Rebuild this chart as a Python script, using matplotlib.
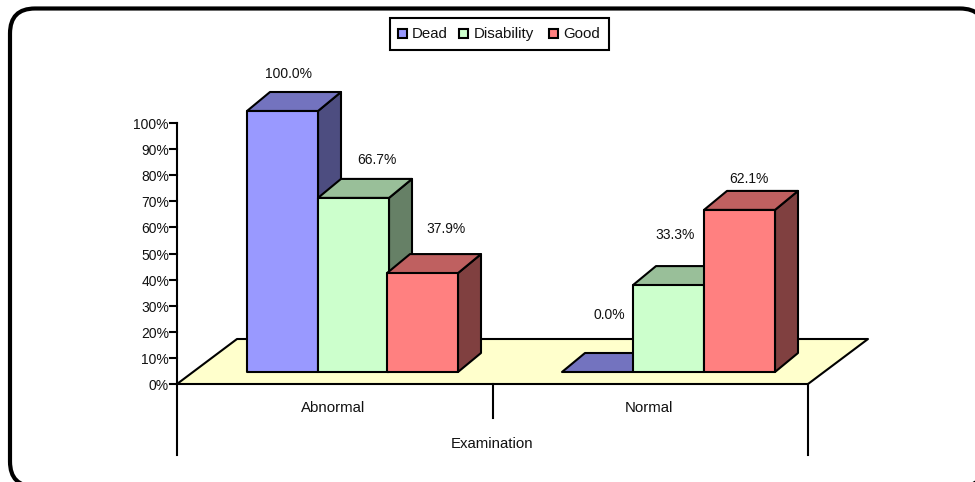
import matplotlib
matplotlib.use("Agg")
import matplotlib.pyplot as plt
from matplotlib.patches import FancyBboxPatch, Polygon, Rectangle

plt.rcParams['font.family'] = ['Liberation Sans', 'DejaVu Sans']

categories = ["Abnormal", "Normal"]
series = ["Dead", "Disability", "Good"]
dead = [100.0, 0.0]
disability = [66.7, 33.3]
good = [37.9, 62.1]
y_ticks = [0, 10, 20, 30, 40, 50, 60, 70, 80, 90, 100]
axis_title = "Examination"

front_colors = ["#9999ff", "#ccffcc", "#ff8080"]
top_colors = ["#7373bf", "#99bf99", "#bf6060"]
side_colors = ["#4d4d80", "#668066", "#804040"]

FLOOR_COLOR = "#ffffcc"
TEXT_COLOR = "#111111"
PX_PER_PCT = 2.61
AXIS_X, AXIS_Y = 177, 384
FLOOR_W, FLOOR_DX, FLOOR_DY = 631, 60, 45
BAR_W, BAR_DX, BAR_DY = 71, 23, 19
BAR_BASE = 372
BAR_LEFTS = [[247, 318, 387], [562, 633, 704]]
LW = 1.5

fig = plt.figure(figsize=(9.75, 4.82), dpi=100)
ax = fig.add_axes([0, 0, 1, 1])
ax.set_xlim(0, 975)
ax.set_ylim(482, 0)
ax.axis("off")


def face(points, color, zorder):
    ax.add_patch(Polygon(points, closed=True, facecolor=color, edgecolor="black",
                         linewidth=LW, joinstyle="round", zorder=zorder))


def draw_bar(left, value, i, zorder):
    right = left + BAR_W
    top = BAR_BASE - value * PX_PER_PCT
    if value > 0:
        face([(right, BAR_BASE), (right + BAR_DX, BAR_BASE - BAR_DY),
              (right + BAR_DX, top - BAR_DY), (right, top)], side_colors[i], zorder)
    face([(left, top), (left + BAR_DX, top - BAR_DY),
          (right + BAR_DX, top - BAR_DY), (right, top)], top_colors[i], zorder)
    if value > 0:
        face([(left, BAR_BASE), (right, BAR_BASE), (right, top), (left, top)],
             front_colors[i], zorder)


# outer frame runs slightly past the canvas on the right and bottom
ax.add_patch(FancyBboxPatch((35, 33.5), 925, 428, boxstyle="round,pad=25,rounding_size=25",
                            facecolor="white", edgecolor="black", linewidth=3, zorder=0))

# floor of the 3d plot area
face([(AXIS_X, AXIS_Y), (AXIS_X + FLOOR_W, AXIS_Y),
      (AXIS_X + FLOOR_W + FLOOR_DX, AXIS_Y - FLOOR_DY),
      (AXIS_X + FLOOR_DX, AXIS_Y - FLOOR_DY)], FLOOR_COLOR, 1)

# value axis and ticks
ax.plot([AXIS_X, AXIS_X], [AXIS_Y, AXIS_Y - 100 * PX_PER_PCT], color="black", lw=LW, zorder=2)
for t in y_ticks:
    y = AXIS_Y - t * PX_PER_PCT
    ax.plot([AXIS_X - 7, AXIS_X], [y, y], color="black", lw=LW, zorder=2)
    ax.text(AXIS_X - 8, y + 2, f"{t}%", ha="right", va="center", fontsize=10, color=TEXT_COLOR)

# category dividers below the floor
mid_x = AXIS_X + FLOOR_W / 2
ax.plot([AXIS_X, AXIS_X], [AXIS_Y, 455], color="black", lw=LW, zorder=2)
ax.plot([mid_x, mid_x], [AXIS_Y, 418], color="black", lw=LW, zorder=2)
ax.plot([AXIS_X + FLOOR_W] * 2, [AXIS_Y, 455], color="black", lw=LW, zorder=2)
ax.text(AXIS_X + FLOOR_W / 4 - 2, 408, categories[0], ha="center", va="center", fontsize=10.8, color=TEXT_COLOR)
ax.text(AXIS_X + 3 * FLOOR_W / 4 - 1, 408, categories[1], ha="center", va="center", fontsize=10.8, color=TEXT_COLOR)
ax.text(mid_x, 444, axis_title, ha="center", va="center", fontsize=10.8, color=TEXT_COLOR)

# bars, left to right so the nearer ones overlap
values = [dead, disability, good]
label_offsets = [[(-5, -37), (12, -38), (12, -44)], [(0, -57), (-5, -50), (-2, -31)]]
for g, lefts in enumerate(BAR_LEFTS):
    for i, x in enumerate(lefts):
        v = values[i][g]
        draw_bar(x, v, i, 3 + i)
        dx, dy = label_offsets[g][i]
        ax.text(x + BAR_W / 2 + BAR_DX / 2 + dx, BAR_BASE - v * PX_PER_PCT + dy, f"{v:.1f}%",
                ha="center", va="center", fontsize=10, color=TEXT_COLOR, zorder=10)

# legend box
ax.add_patch(Rectangle((389.5, 17.5), 219.5, 32, facecolor="white", edgecolor="black", linewidth=LW, zorder=6))
swatch_x = [398, 459, 549]
legend_text_x = [412, 474, 563]
for i, name in enumerate(series):
    ax.add_patch(Rectangle((swatch_x[i], 28.5), 9, 9, facecolor=front_colors[i], edgecolor="black",
                           linewidth=1.5, zorder=7))
    ax.text(legend_text_x[i], 34, name, ha="left", va="center", fontsize=10.8, color=TEXT_COLOR, zorder=7)

fig.savefig("out.png", dpi=100)
